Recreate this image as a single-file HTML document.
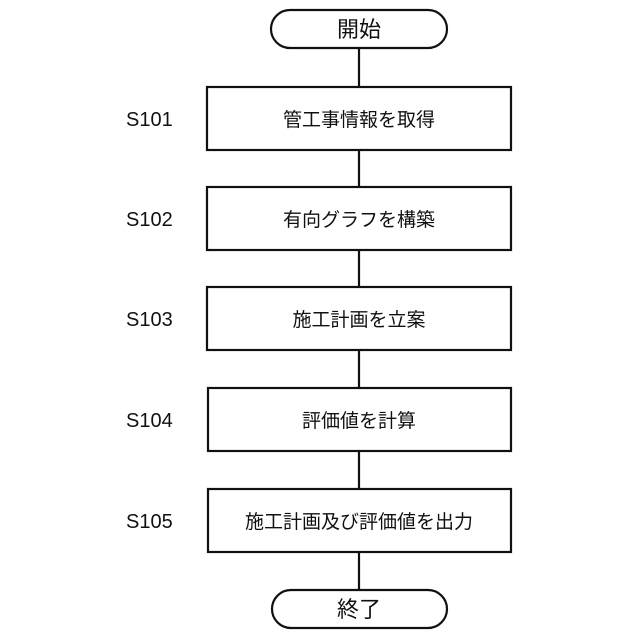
<!DOCTYPE html>
<html><head><meta charset="utf-8"><style>
html,body{margin:0;padding:0;background:#fff;}
</style></head><body>
<svg width="640" height="640" viewBox="0 0 640 640" xmlns="http://www.w3.org/2000/svg" style="display:block">
<g stroke="#111" stroke-width="2.2" fill="#fff">
<line x1="359" y1="48" x2="359" y2="87"/>
<line x1="359" y1="150" x2="359" y2="187"/>
<line x1="359" y1="250" x2="359" y2="287"/>
<line x1="359" y1="350" x2="359" y2="388"/>
<line x1="359" y1="451" x2="359" y2="489"/>
<line x1="359" y1="552" x2="359" y2="590"/>
<rect x="271" y="10" width="176" height="38" rx="19"/>
<rect x="207" y="87" width="304" height="63"/>
<rect x="207" y="187" width="304" height="63"/>
<rect x="207" y="287" width="304" height="63"/>
<rect x="208" y="388" width="303" height="63"/>
<rect x="208" y="489" width="303" height="63"/>
<rect x="272" y="590" width="175" height="38" rx="19"/>
</g>
<g font-family="'Liberation Sans','Noto Sans CJK JP',sans-serif" fill="#111" text-anchor="middle">
<text x="359" y="37" font-size="22">開始</text>
<text x="359" y="126" font-size="19">管工事情報を取得</text>
<text x="359" y="226" font-size="19">有向グラフを構築</text>
<text x="359" y="326" font-size="19">施工計画を立案</text>
<text x="359" y="427" font-size="19">評価値を計算</text>
<text x="359" y="528" font-size="19">施工計画及び評価値を出力</text>
<text x="359" y="617" font-size="22">終了</text>
</g>
<g font-family="'Liberation Sans',sans-serif" fill="#111" font-size="20">
<text x="126" y="126">S101</text>
<text x="126" y="226">S102</text>
<text x="126" y="326">S103</text>
<text x="126" y="427">S104</text>
<text x="126" y="528">S105</text>
</g>
</svg>
</body></html>
